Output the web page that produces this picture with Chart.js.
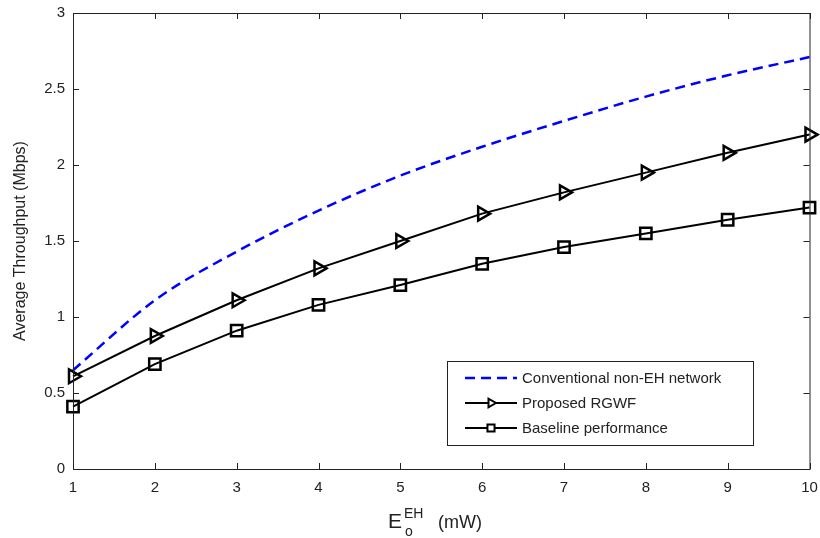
<!DOCTYPE html>
<html>
<head>
<meta charset="utf-8">
<script src="https://cdn.jsdelivr.net/npm/chart.js@4/dist/chart.umd.min.js"></script>
<style>
  html, body { margin: 0; padding: 0; background: #fff; }
  #wrap { width: 820px; height: 538px; }
</style>
</head>
<body>
<div id="wrap"><canvas id="chart" width="820" height="538"></canvas></div>
<script>
// valores
const power = [1, 2, 3, 4, 5, 6, 7, 8, 9, 10];
const conventional = [0.65, 1.11, 1.43, 1.70, 1.93, 2.12, 2.29, 2.45, 2.59, 2.71];
const proposed = [0.61, 0.875, 1.11, 1.32, 1.50, 1.68, 1.82, 1.95, 2.08, 2.20];
const baseline = [0.41, 0.69, 0.91, 1.08, 1.21, 1.35, 1.46, 1.55, 1.64, 1.72];
const legendNames = ["Conventional non-EH network", "Proposed RGWF", "Baseline performance"];
const yTicks = [0, 0.5, 1, 1.5, 2, 2.5, 3];

const FONT = "'Liberation Sans', Arial, sans-serif";

function toXY(ys){
  return power.map((x, i) => ({ x: x, y: ys[i] }));
}

// Ejes estilo MATLAB: caja + ticks hacia dentro + títulos
const axesPlugin = {
  id: "axesBox",
  afterDatasetsDraw(chart){
    const ctx = chart.ctx;
    const a = chart.chartArea;
    const xs = chart.scales.x, ys = chart.scales.y;
    ctx.save();
    ctx.strokeStyle = "#222";
    ctx.lineWidth = 1;
    ctx.strokeRect(a.left + 0.5, a.top + 0.5, a.right - a.left, a.bottom - a.top);
    ctx.beginPath();
    power.forEach(v => {
      const px = Math.round(xs.getPixelForValue(v)) + 0.5;
      ctx.moveTo(px, a.bottom); ctx.lineTo(px, a.bottom - 6);
      ctx.moveTo(px, a.top); ctx.lineTo(px, a.top + 6);
    });
    yTicks.forEach(v => {
      const py = Math.round(ys.getPixelForValue(v)) + 0.5;
      ctx.moveTo(a.left, py); ctx.lineTo(a.left + 6, py);
      ctx.moveTo(a.right, py); ctx.lineTo(a.right - 6, py);
    });
    ctx.stroke();

    // título eje y
    ctx.fillStyle = "#222";
    ctx.font = "16px " + FONT;
    ctx.textAlign = "center";
    ctx.textBaseline = "middle";
    ctx.translate(21, (a.top + a.bottom) / 2);
    ctx.rotate(-Math.PI / 2);
    ctx.fillText("Average Throughput (Mbps)", 0, 0);
    ctx.setTransform(1, 0, 0, 1, 0, 0);

    // título eje x: E_o^EH (mW)
    ctx.textAlign = "left";
    ctx.textBaseline = "alphabetic";
    let x0 = 388, base = 528;
    ctx.font = "21px " + FONT;
    ctx.fillText("E", x0, base);
    ctx.font = "14px " + FONT;
    ctx.fillText("EH", x0 + 16, base - 10);
    ctx.fillText("o", x0 + 17, base + 8);
    ctx.font = "18px " + FONT;
    ctx.fillText("(mW)", x0 + 50, base);
    ctx.restore();
  }
};

// Leyenda propia dentro del área
const legendPlugin = {
  id: "boxLegend",
  afterDraw(chart){
    const ctx = chart.ctx;
    const bx = 447, by = 361, bw = 306, bh = 84;
    ctx.save();
    ctx.fillStyle = "#fff";
    ctx.fillRect(bx, by, bw, bh);
    ctx.strokeStyle = "#222";
    ctx.lineWidth = 1;
    ctx.strokeRect(bx + 0.5, by + 0.5, bw, bh);
    const rows = [378, 403, 428];
    chart.data.datasets.forEach((ds, i) => {
      const y = rows[i];
      ctx.strokeStyle = ds.borderColor;
      ctx.lineWidth = ds.borderWidth;
      ctx.setLineDash(ds.borderDash || []);
      ctx.beginPath();
      ctx.moveTo(465, y); ctx.lineTo(517, y);
      ctx.stroke();
      ctx.setLineDash([]);
      if (ds.pointStyle && ds.pointRadius > 0) {
        ctx.lineWidth = 2;
        ctx.fillStyle = "#fff";
        Chart.helpers.drawPoint(ctx, {
          pointStyle: ds.pointStyle, radius: 5, rotation: ds.pointRotation || 0, borderWidth: 2
        }, 491, y);
      }
      ctx.fillStyle = "#222";
      ctx.font = "15px " + FONT;
      ctx.textBaseline = "middle";
      ctx.fillText(legendNames[i], 522, y + 1);
    });
    ctx.restore();
  }
};

const ctx = document.getElementById("chart").getContext("2d");
new Chart(ctx, {
  type: "line",
  data: {
    datasets: [
      {
        label: legendNames[0],
        data: toXY(conventional),
        borderColor: "#0000ff",
        borderWidth: 2.5,
        borderDash: [10, 6],
        pointRadius: 0,
        tension: 0.4,
        cubicInterpolationMode: "monotone",
        clip: false
      },
      {
        label: legendNames[1],
        data: toXY(proposed),
        borderColor: "#000",
        borderWidth: 2,
        pointStyle: "triangle",
        pointRotation: 90,
        pointRadius: 8,
        pointBorderWidth: 2.5,
        pointBackgroundColor: "rgba(0,0,0,0)",
        pointBorderColor: "#000",
        clip: false
      },
      {
        label: legendNames[2],
        data: toXY(baseline),
        borderColor: "#000",
        borderWidth: 2,
        pointStyle: "rect",
        pointRadius: 8,
        pointBorderWidth: 2.5,
        pointBackgroundColor: "rgba(0,0,0,0)",
        pointBorderColor: "#000",
        clip: false
      }
    ]
  },
  options: {
    responsive: false,
    animation: false,
    layout: { padding: { left: 0, top: 13, right: 8, bottom: 0 } },
    plugins: { legend: { display: false }, tooltip: { enabled: false } },
    scales: {
      x: {
        type: "linear",
        min: 1, max: 10,
        afterBuildTicks(s){ s.ticks = power.map(v => ({ value: v })); },
        afterFit(s){ s.height = 69; s.paddingRight = 0; s.paddingLeft = 0; },
        grid: { display: false, drawTicks: false },
        border: { display: false },
        ticks: { color: "#222", font: { family: FONT, size: 15 }, padding: 10, maxRotation: 0 }
      },
      y: {
        type: "linear",
        min: 0, max: 3,
        afterBuildTicks(s){ s.ticks = yTicks.map(v => ({ value: v })); },
        afterFit(s){ s.width = 73; s.paddingTop = 0; s.paddingBottom = 0; },
        grid: { display: false, drawTicks: false },
        border: { display: false },
        ticks: { color: "#222", font: { family: FONT, size: 15 }, padding: 8, callback: v => String(v) }
      }
    }
  },
  plugins: [axesPlugin, legendPlugin]
});
</script>
</body>
</html>
